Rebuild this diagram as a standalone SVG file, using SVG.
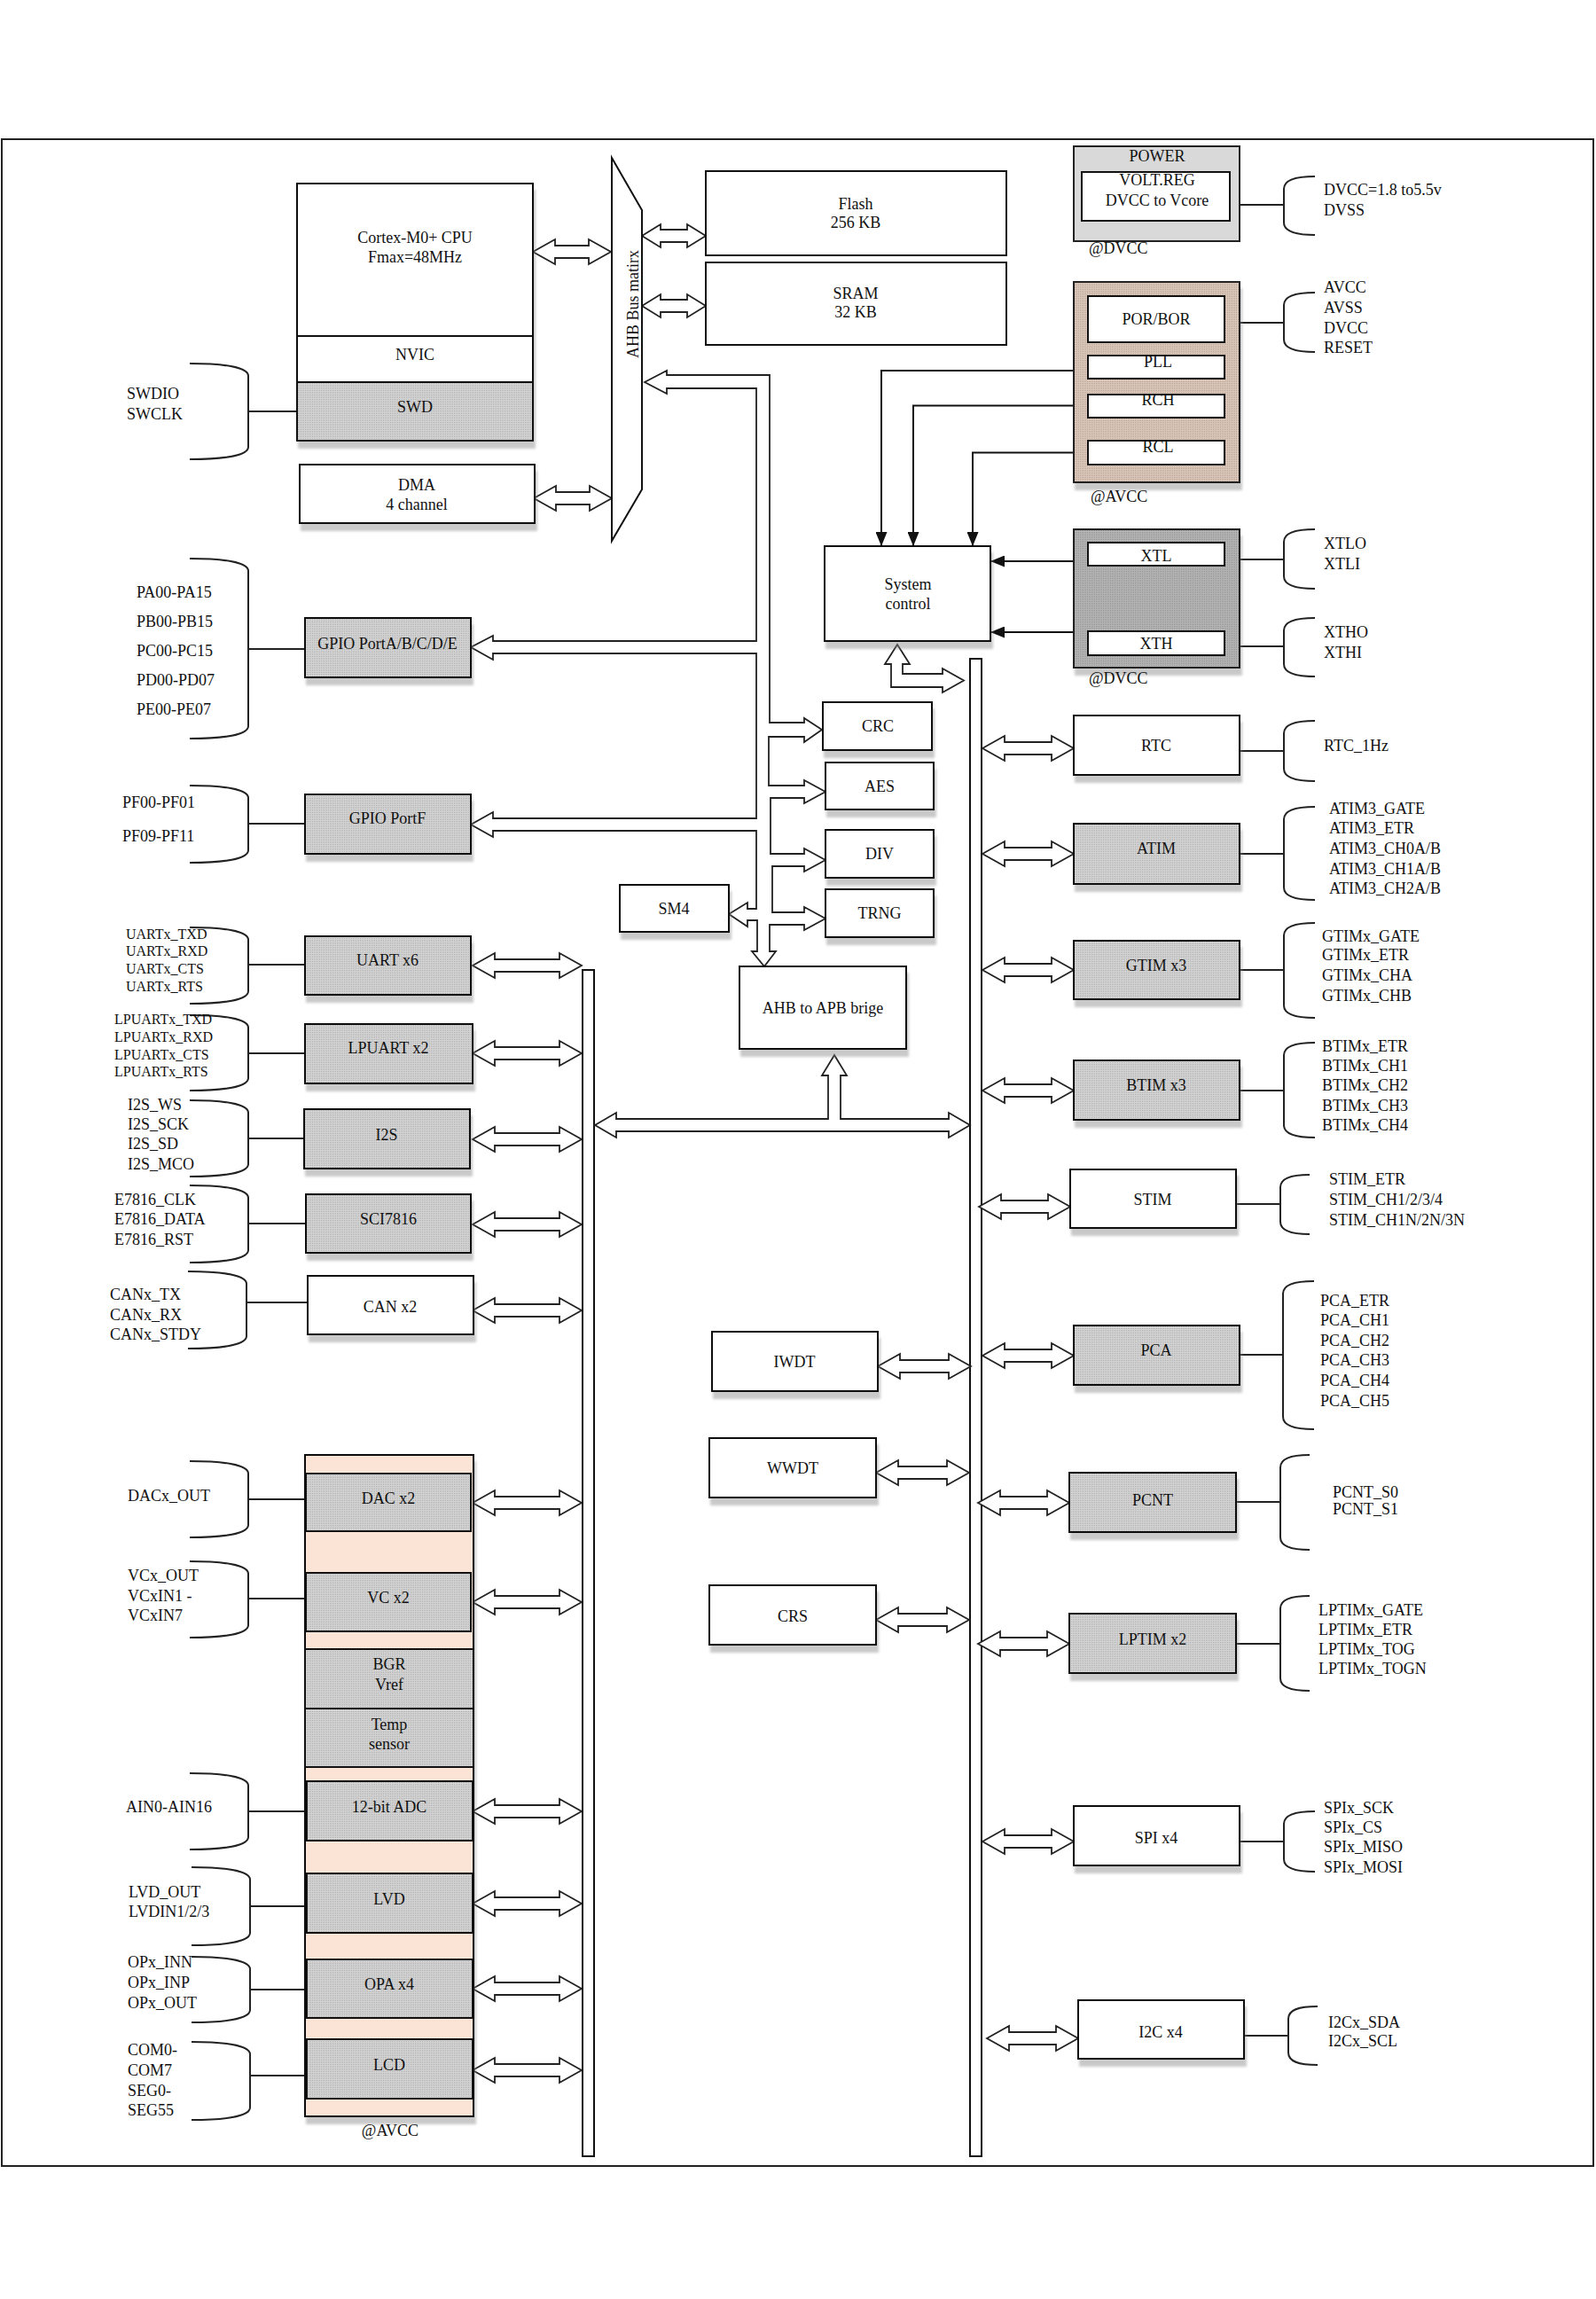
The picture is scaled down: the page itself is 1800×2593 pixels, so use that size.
<svg xmlns="http://www.w3.org/2000/svg" xmlns:xlink="http://www.w3.org/1999/xlink" width="1800" height="2593" viewBox="0 0 1800 2593">
<defs>
<style>
text{font-family:"Liberation Serif","Times New Roman",serif;font-size:18px;fill:#111}
.c{text-anchor:middle}
.s{font-size:16px}
.bx{stroke:#111;stroke-width:2}
.sh{filter:url(#sh)}
.w{fill:#fff}
.g{fill:url(#pg)}
.ln{fill:none;stroke:#111;stroke-width:2}
.br{fill:none;stroke:#222;stroke-width:2}
.ar{fill:#fff;stroke:#222;stroke-width:1.8;stroke-linejoin:miter}
</style>
<pattern id="pg" width="2" height="2" patternUnits="userSpaceOnUse"><rect width="2" height="2" fill="#d6d6d6"/><rect width="1" height="1" fill="#a8a8a8"/></pattern>
<pattern id="pt" width="2" height="2" patternUnits="userSpaceOnUse"><rect width="2" height="2" fill="#ddc9bc"/><rect width="1" height="1" fill="#b29c8e"/></pattern>
<pattern id="pd" width="2" height="2" patternUnits="userSpaceOnUse"><rect width="2" height="2" fill="#b6b6b6"/><rect width="1" height="1" fill="#8c8c8c"/></pattern>
<filter id="sh" x="-5%" y="-5%" width="115%" height="140%"><feDropShadow dx="2" dy="8" stdDeviation="1.5" flood-color="#888" flood-opacity="0.45"/></filter>
<marker id="fa" viewBox="0 0 16 13" refX="16" refY="6.5" markerWidth="16" markerHeight="13" markerUnits="userSpaceOnUse" orient="auto"><path d="M0,0 L16,6.5 L0,13 Z" fill="#111"/></marker>
<path id="a123" d="M0,0 L25,-14 L25,-7 L98,-7 L98,-14 L123,0 L98,14 L98,7 L25,7 L25,14 Z"/>
<path id="a103" d="M0,0 L25,-14 L25,-7 L78,-7 L78,-14 L103,0 L78,14 L78,7 L25,7 L25,14 Z"/>
<path id="a105" d="M0,0 L25,-14 L25,-7 L80,-7 L80,-14 L105,0 L80,14 L80,7 L25,7 L25,14 Z"/>
<path id="a88" d="M0,0 L25,-14 L25,-7 L63,-7 L63,-14 L88,0 L63,14 L63,7 L25,7 L25,14 Z"/>
<path id="a72" d="M0,0 L21,-13 L21,-7 L51,-7 L51,-13 L72,0 L51,13 L51,7 L21,7 L21,13 Z"/>
</defs>
<rect width="1800" height="2593" fill="#fff"/>
<rect id="frame" x="2" y="157" width="1795" height="2286" fill="none" stroke="#222" stroke-width="2"/>

<!-- buses -->
<g id="apb-bus-left"><rect x="657" y="1094" width="13" height="1338" fill="#fff" stroke="#111" stroke-width="2"/></g>
<g id="apb-bus-right"><rect x="1094" y="743" width="13" height="1689" fill="#fff" stroke="#111" stroke-width="2"/></g>

<g id="connectors">
<!-- AHB channel to GPIO / crypto / bridge -->
<path class="ar" d="M727,431 L752,418 L752,423 L868,423 L868,815 L907,815 L907,810 L927,823 L907,837 L907,831 L867,831 L867,886 L907,886 L907,880 L931,893 L907,906 L907,900 L869,900 L869,963 L907,963 L907,957 L931,970 L907,983 L907,977 L871,977 L871,1029 L907,1029 L907,1023 L931,1036 L907,1049 L907,1043 L868,1043 L868,1073 L875,1073 L862,1090 L848,1073 L854,1073 L854,1038 L843,1038 L843,1045 L822,1031 L843,1018 L843,1025 L853,1025 L853,937 L556,937 L556,944 L531,930 L556,916 L556,923 L853,923 L853,737 L556,737 L556,744 L531,730 L556,717 L556,723 L853,723 L853,438 L752,438 L752,444 Z"/>
<!-- APB horizontal bus with up arrow to bridge -->
<path class="ar" d="M671,1269 L695,1255 L695,1262 L934,1262 L934,1213 L927,1213 L941,1190 L955,1213 L948,1213 L948,1262 L1070,1262 L1070,1255 L1094,1269 L1070,1283 L1070,1276 L695,1276 L695,1283 Z"/>
<!-- system control to right bus -->
<path class="ar" d="M1012,727 L1026,749 L1018,749 L1018,760 L1063,760 L1063,754 L1087,767.5 L1063,781 L1063,775 L1005,775 L1005,749 L998,749 Z"/>
<!-- clock lines -->
<path class="ln" d="M1227,418 H994 V616" marker-end="url(#fa)"/>
<path class="ln" d="M1227,457.5 H1030 V616" marker-end="url(#fa)"/>
<path class="ln" d="M1227,510.5 H1097 V616" marker-end="url(#fa)"/>
<path class="ln" d="M1211,633 H1117" marker-end="url(#fa)"/>
<path class="ln" d="M1211,713 H1117" marker-end="url(#fa)"/>
<!-- AHB double arrows -->
<use href="#a88" x="601" y="284" class="ar"/>
<use href="#a88" x="602" y="562" class="ar"/>
<use href="#a72" x="724" y="266" class="ar"/>
<use href="#a72" x="724" y="345" class="ar"/>
<!-- left bus arrows -->
<use href="#a123" x="533" y="1089" class="ar"/>
<use href="#a123" x="533" y="1188" class="ar"/>
<use href="#a123" x="533" y="1285" class="ar"/>
<use href="#a123" x="533" y="1381" class="ar"/>
<use href="#a123" x="533" y="1478" class="ar"/>
<use href="#a123" x="533" y="1695" class="ar"/>
<use href="#a123" x="533" y="1807" class="ar"/>
<use href="#a123" x="533" y="2043" class="ar"/>
<use href="#a123" x="533" y="2147" class="ar"/>
<use href="#a123" x="533" y="2243" class="ar"/>
<use href="#a123" x="533" y="2335" class="ar"/>
<!-- middle arrows -->
<use href="#a105" x="990" y="1541" class="ar"/>
<use href="#a105" x="988" y="1661" class="ar"/>
<use href="#a105" x="988" y="1827" class="ar"/>
<!-- right bus arrows -->
<use href="#a103" x="1108" y="844" class="ar"/>
<use href="#a103" x="1108" y="963" class="ar"/>
<use href="#a103" x="1108" y="1094" class="ar"/>
<use href="#a103" x="1108" y="1230" class="ar"/>
<use href="#a103" x="1104" y="1361" class="ar"/>
<use href="#a103" x="1108" y="1529" class="ar"/>
<use href="#a103" x="1103" y="1695" class="ar"/>
<use href="#a103" x="1103" y="1854" class="ar"/>
<use href="#a103" x="1108" y="2077" class="ar"/>
<use href="#a103" x="1113" y="2299" class="ar"/>
</g>

<g id="pins">
<!-- left braces -->
<path class="br" d="M214,410 C252,410 280,414 280,424 L280,504 C280,514 252,518 214,518 M280,464 H335"/>
<path class="br" d="M214,630 C252,630 280,634 280,644 L280,819 C280,829 252,833 214,833 M280,732 H344"/>
<path class="br" d="M214,886 C252,886 280,890 280,900 L280,959 C280,969 252,973 214,973 M280,929 H344"/>
<path class="br" d="M214,1046 C252,1046 280,1050 280,1060 L280,1118 C280,1128 252,1132 214,1132 M280,1088 H344"/>
<path class="br" d="M214,1145 C252,1145 280,1149 280,1159 L280,1216 C280,1226 252,1230 214,1230 M280,1188 H344"/>
<path class="br" d="M214,1241 C252,1241 280,1245 280,1255 L280,1313 C280,1323 252,1327 214,1327 M280,1284 H343"/>
<path class="br" d="M214,1337 C252,1337 280,1341 280,1351 L280,1410 C280,1420 252,1424 214,1424 M280,1380 H345"/>
<path class="br" d="M212,1434 C250,1434 278,1438 278,1448 L278,1507 C278,1517 250,1521 212,1521 M278,1469 H347"/>
<path class="br" d="M214,1648 C252,1648 280,1652 280,1662 L280,1720 C280,1730 252,1734 214,1734 M280,1691 H345"/>
<path class="br" d="M214,1761 C252,1761 280,1765 280,1775 L280,1833 C280,1843 252,1847 214,1847 M280,1803 H345"/>
<path class="br" d="M214,2000 C252,2000 280,2004 280,2014 L280,2072 C280,2082 252,2086 214,2086 M280,2043 H346"/>
<path class="br" d="M216,2106 C254,2106 282,2110 282,2120 L282,2180 C282,2190 254,2194 216,2194 M282,2150 H346"/>
<path class="br" d="M216,2207 C254,2207 282,2211 282,2221 L282,2267 C282,2277 254,2281 216,2281 M282,2244 H346"/>
<path class="br" d="M216,2303 C254,2303 282,2307 282,2317 L282,2377 C282,2387 254,2391 216,2391 M282,2341 H346"/>
<!-- right braces -->
<path class="br" d="M1483,199 C1460,199 1448,203 1448,213 L1448,251 C1448,261 1460,265 1483,265 M1448,231 H1398"/>
<path class="br" d="M1483,330 C1460,330 1448,334 1448,344 L1448,383 C1448,393 1460,397 1483,397 M1448,364 H1398"/>
<path class="br" d="M1483,597 C1460,597 1448,601 1448,611 L1448,650 C1448,660 1460,664 1483,664 M1448,631 H1398"/>
<path class="br" d="M1483,697 C1460,697 1448,701 1448,711 L1448,749 C1448,759 1460,763 1483,763 M1448,729 H1398"/>
<path class="br" d="M1483,813 C1460,813 1448,817 1448,827 L1448,867 C1448,877 1460,881 1483,881 M1448,847 H1398"/>
<path class="br" d="M1483,910 C1460,910 1448,914 1448,924 L1448,1001 C1448,1011 1460,1015 1483,1015 M1448,963 H1398"/>
<path class="br" d="M1483,1041 C1460,1041 1448,1045 1448,1055 L1448,1134 C1448,1144 1460,1148 1483,1148 M1448,1094 H1398"/>
<path class="br" d="M1483,1176 C1460,1176 1448,1180 1448,1190 L1448,1269 C1448,1279 1460,1283 1483,1283 M1448,1230 H1398"/>
<path class="br" d="M1477,1325 C1456,1325 1444,1329 1444,1339 L1444,1378 C1444,1388 1456,1392 1477,1392 M1444,1358 H1394"/>
<path class="br" d="M1482,1445 C1459,1445 1447,1449 1447,1459 L1447,1598 C1447,1608 1459,1612 1482,1612 M1447,1528 H1398"/>
<path class="br" d="M1477,1641 C1456,1641 1444,1645 1444,1655 L1444,1734 C1444,1744 1456,1748 1477,1748 M1444,1694 H1394"/>
<path class="br" d="M1477,1800 C1456,1800 1444,1804 1444,1814 L1444,1893 C1444,1903 1456,1907 1477,1907 M1444,1854 H1394"/>
<path class="br" d="M1483,2043 C1460,2043 1448,2047 1448,2057 L1448,2097 C1448,2107 1460,2111 1483,2111 M1448,2077 H1398"/>
<path class="br" d="M1486,2263 C1464,2263 1453,2267 1453,2277 L1453,2315 C1453,2325 1464,2329 1486,2329 M1453,2296 H1403"/>
<!-- left pin labels -->
<text x="143" y="450">SWDIO</text><text x="143" y="473">SWCLK</text>
<text x="154" y="674">PA00-PA15</text><text x="154" y="707">PB00-PB15</text><text x="154" y="740">PC00-PC15</text><text x="154" y="773">PD00-PD07</text><text x="154" y="806">PE00-PE07</text>
<text x="138" y="911">PF00-PF01</text><text x="138" y="949">PF09-PF11</text>
<text class="s" x="142" y="1059">UARTx_TXD</text><text class="s" x="142" y="1078">UARTx_RXD</text><text class="s" x="142" y="1098">UARTx_CTS</text><text class="s" x="142" y="1118">UARTx_RTS</text>
<text class="s" x="129" y="1155">LPUARTx_TXD</text><text class="s" x="129" y="1175">LPUARTx_RXD</text><text class="s" x="129" y="1195">LPUARTx_CTS</text><text class="s" x="129" y="1214">LPUARTx_RTS</text>
<text x="144" y="1252">I2S_WS</text><text x="144" y="1274">I2S_SCK</text><text x="144" y="1296">I2S_SD</text><text x="144" y="1319">I2S_MCO</text>
<text x="129" y="1359">E7816_CLK</text><text x="129" y="1381">E7816_DATA</text><text x="129" y="1404">E7816_RST</text>
<text x="124" y="1466">CANx_TX</text><text x="124" y="1489">CANx_RX</text><text x="124" y="1511">CANx_STDY</text>
<text x="144" y="1693">DACx_OUT</text>
<text x="144" y="1783">VCx_OUT</text><text x="144" y="1806">VCxIN1 -</text><text x="144" y="1828">VCxIN7</text>
<text x="142" y="2044">AIN0-AIN16</text>
<text x="145" y="2140">LVD_OUT</text><text x="145" y="2162">LVDIN1/2/3</text>
<text x="144" y="2219">OPx_INN</text><text x="144" y="2242">OPx_INP</text><text x="144" y="2265">OPx_OUT</text>
<text x="144" y="2318">COM0-</text><text x="144" y="2341">COM7</text><text x="144" y="2364">SEG0-</text><text x="144" y="2386">SEG55</text>
<!-- right pin labels -->
<text x="1493" y="220">DVCC=1.8 to5.5v</text><text x="1493" y="243">DVSS</text>
<text x="1493" y="330">AVCC</text><text x="1493" y="353">AVSS</text><text x="1493" y="376">DVCC</text><text x="1493" y="398">RESET</text>
<text x="1493" y="619">XTLO</text><text x="1493" y="642">XTLI</text>
<text x="1493" y="719">XTHO</text><text x="1493" y="742">XTHI</text>
<text x="1493" y="847">RTC_1Hz</text>
<text x="1499" y="918">ATIM3_GATE</text><text x="1499" y="940">ATIM3_ETR</text><text x="1499" y="963">ATIM3_CH0A/B</text><text x="1499" y="986">ATIM3_CH1A/B</text><text x="1499" y="1008">ATIM3_CH2A/B</text>
<text x="1491" y="1062">GTIMx_GATE</text><text x="1491" y="1083">GTIMx_ETR</text><text x="1491" y="1106">GTIMx_CHA</text><text x="1491" y="1129">GTIMx_CHB</text>
<text x="1491" y="1186">BTIMx_ETR</text><text x="1491" y="1208">BTIMx_CH1</text><text x="1491" y="1230">BTIMx_CH2</text><text x="1491" y="1253">BTIMx_CH3</text><text x="1491" y="1275">BTIMx_CH4</text>
<text x="1499" y="1336">STIM_ETR</text><text x="1499" y="1359">STIM_CH1/2/3/4</text><text x="1499" y="1382">STIM_CH1N/2N/3N</text>
<text x="1489" y="1473">PCA_ETR</text><text x="1489" y="1495">PCA_CH1</text><text x="1489" y="1518">PCA_CH2</text><text x="1489" y="1540">PCA_CH3</text><text x="1489" y="1563">PCA_CH4</text><text x="1489" y="1586">PCA_CH5</text>
<text x="1503" y="1689">PCNT_S0</text><text x="1503" y="1708">PCNT_S1</text>
<text x="1487" y="1822">LPTIMx_GATE</text><text x="1487" y="1844">LPTIMx_ETR</text><text x="1487" y="1866">LPTIMx_TOG</text><text x="1487" y="1888">LPTIMx_TOGN</text>
<text x="1493" y="2045">SPIx_SCK</text><text x="1493" y="2067">SPIx_CS</text><text x="1493" y="2089">SPIx_MISO</text><text x="1493" y="2112">SPIx_MOSI</text>
<text x="1498" y="2287">I2Cx_SDA</text><text x="1498" y="2308">I2Cx_SCL</text>
</g>

<!-- top-left core -->
<g id="cpu">
<rect class="bx w sh" x="335" y="207" width="266" height="290"/>
<rect class="bx g" x="335" y="431" width="266" height="66"/>
<line x1="335" y1="379" x2="601" y2="379" stroke="#111" stroke-width="2"/>
<text class="c" x="468" y="274">Cortex-M0+ CPU</text>
<text class="c" x="468" y="296">Fmax=48MHz</text>
<text class="c" x="468" y="406">NVIC</text>
<text class="c" x="468" y="465">SWD</text>
</g>
<g id="dma"><rect class="bx w sh" x="338" y="524" width="265" height="66"/><text class="c" x="470" y="553">DMA</text><text class="c" x="470" y="575">4 channel</text></g>
<g id="ahb-matrix"><polygon points="690,178 724,237 724,552 690,610" fill="#fff" stroke="#111" stroke-width="2"/><text class="c" transform="translate(720,343) rotate(-90)">AHB Bus matirx</text></g>
<g id="flash"><rect class="bx w" x="796" y="193" width="339" height="95"/><text class="c" x="965" y="236">Flash</text><text class="c" x="965" y="257">256 KB</text></g>
<g id="sram"><rect class="bx w" x="796" y="296" width="339" height="93"/><text class="c" x="965" y="337">SRAM</text><text class="c" x="965" y="358">32 KB</text></g>

<!-- power / clocks -->
<g id="power">
<rect x="1211" y="165" width="187" height="107" fill="#d9d9d9" stroke="#222" stroke-width="2"/>
<text class="c" x="1305" y="182">POWER</text>
<rect class="bx w" x="1220" y="194" width="167" height="55"/>
<text class="c" x="1305" y="209">VOLT.REG</text>
<text class="c" x="1305" y="232">DVCC to Vcore</text>
<text x="1228" y="286">@DVCC</text>
</g>
<g id="avcc-block">
<rect class="sh" x="1211" y="318" width="187" height="226" fill="url(#pt)" stroke="#222" stroke-width="2"/>
<rect class="bx w" x="1227" y="334" width="154" height="52"/><text class="c" x="1304" y="366">POR/BOR</text>
<rect class="bx w" x="1227" y="401" width="154" height="26"/><text class="c" x="1306" y="414">PLL</text>
<rect class="bx w" x="1227" y="445" width="154" height="26"/><text class="c" x="1306" y="457">RCH</text>
<rect class="bx w" x="1227" y="497" width="154" height="27"/><text class="c" x="1306" y="510">RCL</text>
<text x="1230" y="566">@AVCC</text>
</g>
<g id="xtal-block">
<rect class="sh" x="1211" y="597" width="187" height="156" fill="url(#pd)" stroke="#222" stroke-width="2"/>
<rect class="bx w" x="1227" y="612" width="154" height="26"/><text class="c" x="1304" y="633">XTL</text>
<rect class="bx w" x="1227" y="712" width="154" height="27"/><text class="c" x="1304" y="732">XTH</text>
<text x="1228" y="771">@DVCC</text>
</g>
<g id="system-control"><rect class="bx w sh" x="930" y="616" width="187" height="107"/><text class="c" x="1024" y="665">System</text><text class="c" x="1024" y="687">control</text></g>

<!-- crypto / misc -->
<g id="crc"><rect class="bx w sh" x="928" y="792" width="123" height="54"/><text class="c" x="990" y="825">CRC</text></g>
<g id="aes"><rect class="bx w sh" x="931" y="860" width="122" height="53"/><text class="c" x="992" y="893">AES</text></g>
<g id="div"><rect class="bx w sh" x="931" y="936" width="122" height="54"/><text class="c" x="992" y="969">DIV</text></g>
<g id="trng"><rect class="bx w sh" x="931" y="1003" width="122" height="54"/><text class="c" x="992" y="1036">TRNG</text></g>
<g id="sm4"><rect class="bx w sh" x="699" y="998" width="123" height="53"/><text class="c" x="760" y="1031">SM4</text></g>
<g id="ahb-apb-bridge"><rect class="bx w sh" x="834" y="1090" width="188" height="93"/><text class="c" x="928" y="1143">AHB to APB brige</text></g>

<!-- left peripherals -->
<g id="gpio-abcde"><rect class="bx g sh" x="344" y="697" width="187" height="67"/><text class="c" x="437" y="732">GPIO PortA/B/C/D/E</text></g>
<g id="gpio-f"><rect class="bx g sh" x="344" y="896" width="187" height="67"/><text class="c" x="437" y="929">GPIO PortF</text></g>
<g id="uart"><rect class="bx g sh" x="344" y="1056" width="187" height="66"/><text class="c" x="437" y="1089">UART x6</text></g>
<g id="lpuart"><rect class="bx g sh" x="344" y="1155" width="189" height="67"/><text class="c" x="438" y="1188">LPUART x2</text></g>
<g id="i2s"><rect class="bx g sh" x="343" y="1251" width="187" height="67"/><text class="c" x="436" y="1286">I2S</text></g>
<g id="sci7816"><rect class="bx g sh" x="345" y="1347" width="186" height="66"/><text class="c" x="438" y="1381">SCI7816</text></g>
<g id="can"><rect class="bx w sh" x="347" y="1439" width="187" height="66"/><text class="c" x="440" y="1480">CAN x2</text></g>

<!-- analog column -->
<g id="analog-domain"><rect class="sh" x="344" y="1641" width="190" height="746" fill="#fbe4d5" stroke="#111" stroke-width="2"/><text class="c" x="440" y="2409">@AVCC</text></g>
<g id="dac"><rect class="bx g" x="345" y="1662" width="186" height="65"/><text class="c" x="438" y="1696">DAC x2</text></g>
<g id="vc"><rect class="bx g" x="345" y="1774" width="186" height="66"/><text class="c" x="438" y="1808">VC x2</text></g>
<g id="bgr"><rect class="bx g" x="344" y="1860" width="190" height="67"/><text class="c" x="439" y="1883">BGR</text><text class="c" x="439" y="1906">Vref</text></g>
<g id="temp"><rect class="bx g" x="344" y="1927" width="190" height="66"/><text class="c" x="439" y="1951">Temp</text><text class="c" x="439" y="1973">sensor</text></g>
<g id="adc"><rect class="bx g" x="346" y="2009" width="187" height="67"/><text class="c" x="439" y="2044">12-bit ADC</text></g>
<g id="lvd"><rect class="bx g" x="346" y="2113" width="187" height="67"/><text class="c" x="439" y="2148">LVD</text></g>
<g id="opa"><rect class="bx g" x="346" y="2210" width="187" height="66"/><text class="c" x="439" y="2244">OPA x4</text></g>
<g id="lcd"><rect class="bx g" x="346" y="2300" width="187" height="67"/><text class="c" x="439" y="2335">LCD</text></g>

<!-- middle -->
<g id="iwdt"><rect class="bx w sh" x="803" y="1502" width="187" height="67"/><text class="c" x="896" y="1542">IWDT</text></g>
<g id="wwdt"><rect class="bx w sh" x="800" y="1622" width="188" height="67"/><text class="c" x="894" y="1662">WWDT</text></g>
<g id="crs"><rect class="bx w sh" x="800" y="1788" width="188" height="67"/><text class="c" x="894" y="1829">CRS</text></g>

<!-- right peripherals -->
<g id="rtc"><rect class="bx w sh" x="1211" y="807" width="187" height="67"/><text class="c" x="1304" y="847">RTC</text></g>
<g id="atim"><rect class="bx g sh" x="1211" y="929" width="187" height="68"/><text class="c" x="1304" y="963">ATIM</text></g>
<g id="gtim"><rect class="bx g sh" x="1211" y="1061" width="187" height="66"/><text class="c" x="1304" y="1095">GTIM x3</text></g>
<g id="btim"><rect class="bx g sh" x="1211" y="1196" width="187" height="67"/><text class="c" x="1304" y="1230">BTIM x3</text></g>
<g id="stim"><rect class="bx w sh" x="1207" y="1319" width="187" height="66"/><text class="c" x="1300" y="1359">STIM</text></g>
<g id="pca"><rect class="bx g sh" x="1211" y="1495" width="187" height="67"/><text class="c" x="1304" y="1529">PCA</text></g>
<g id="pcnt"><rect class="bx g sh" x="1206" y="1661" width="188" height="67"/><text class="c" x="1300" y="1698">PCNT</text></g>
<g id="lptim"><rect class="bx g sh" x="1206" y="1820" width="188" height="67"/><text class="c" x="1300" y="1855">LPTIM x2</text></g>
<g id="spi"><rect class="bx w sh" x="1211" y="2037" width="187" height="67"/><text class="c" x="1304" y="2079">SPI x4</text></g>
<g id="i2c"><rect class="bx w sh" x="1216" y="2256" width="187" height="66"/><text class="c" x="1309" y="2298">I2C x4</text></g>
</svg>
